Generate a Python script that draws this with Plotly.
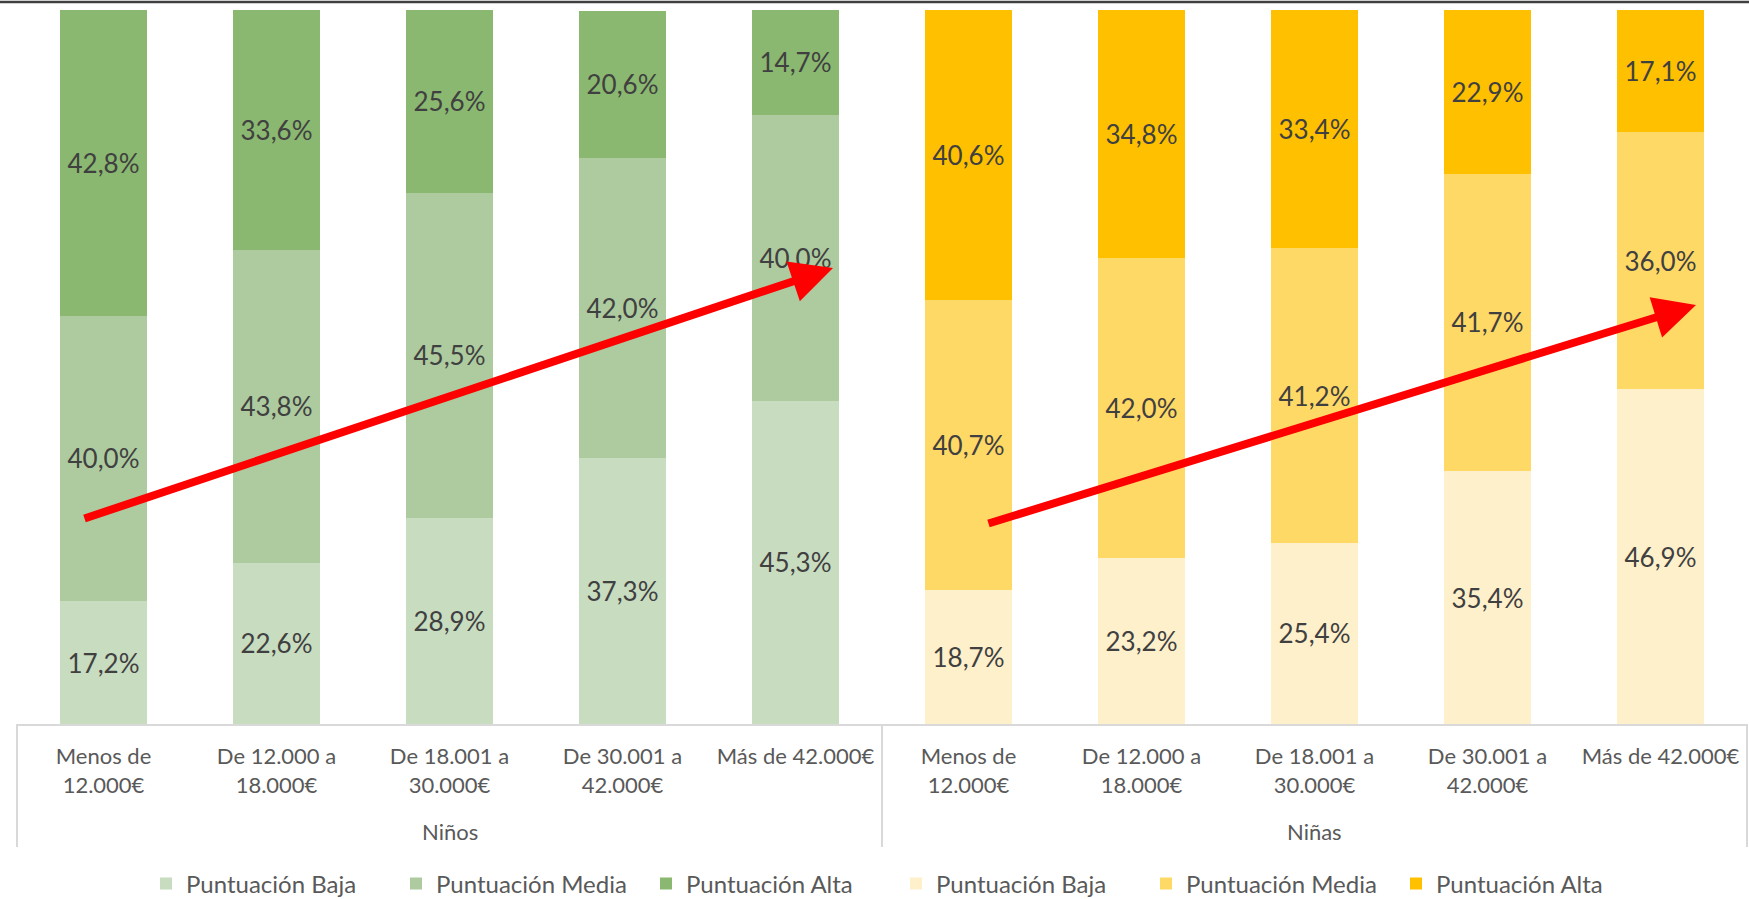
import plotly.graph_objects as go

groups = ["Niños", "Niñas"]
categories = ["Menos de<br>12.000€", "De 12.000 a<br>18.000€", "De 18.001 a<br>30.000€",
              "De 30.001 a<br>42.000€", "Más de 42.000€"]
series_names = ["Puntuación Baja", "Puntuación Media", "Puntuación Alta"]

ninos_baja = [17.2, 22.6, 28.9, 37.3, 45.3]
ninos_media = [40.0, 43.8, 45.5, 42.0, 40.0]
ninos_alta = [42.8, 33.6, 25.6, 20.6, 14.7]

ninas_baja = [18.7, 23.2, 25.4, 35.4, 46.9]
ninas_media = [40.7, 42.0, 41.2, 41.7, 36.0]
ninas_alta = [40.6, 34.8, 33.4, 22.9, 17.1]

green_colors = ["#C8DCC0", "#ADCB9F", "#8AB870"]
yellow_colors = ["#FFF0CC", "#FFD966", "#FFC000"]

FONT = "Lato, Carlito, Calibri, sans-serif"
TEXT_COLOR = "#404040"
AXIS_TEXT = "#595959"
GRID = "#D9D9D9"

# unique category keys (group|category) for a flat category axis
keys = [f"{g}|{c}" for g in groups for c in categories]
ticktext = [c for g in groups for c in categories]

fig = go.Figure()

def add_group(group, values_list, colors):
    x = [f"{group}|{c}" for c in categories]
    for name, vals, col in zip(series_names, values_list, colors):
        fig.add_trace(go.Bar(
            x=x, y=vals, name=name,
            marker=dict(color=col, line=dict(width=0)),
            text=[f"{v:.1f}%".replace(".", ",") for v in vals],
            textposition="inside", insidetextanchor="middle",
            textfont=dict(family=FONT, size=26, color=TEXT_COLOR),
            hoverinfo="skip",
        ))

add_group(groups[0], [ninos_baja, ninos_media, ninos_alta], green_colors)
add_group(groups[1], [ninas_baja, ninas_media, ninas_alta], yellow_colors)

W, H = 1749, 899
ml, mr, mt, mb = 17, 2, 10, 175
pw, ph = W - ml - mr, H - mt - mb

def px_to_paper(px, py):
    return (px - ml) / pw, (H - mb - py) / ph

arrows = [((83, 519), (833, 268)), ((987, 524), (1696, 305))]
annotations = []
for (sx, sy), (ex, ey) in arrows:
    xp, yp = px_to_paper(ex, ey)
    annotations.append(dict(
        x=xp, y=yp, xref="paper", yref="paper",
        ax=sx - ex, ay=sy - ey, axref="pixel", ayref="pixel",
        text="", showarrow=True, arrowhead=2, arrowsize=1.05,
        arrowwidth=8, arrowcolor="#FF0000", standoff=0,
    ))

# group labels and dividers
n_total = len(keys)
n_per = len(categories)
for gi, g in enumerate(groups):
    annotations.append(dict(
        x=(gi * n_per + n_per / 2) / n_total, y=-108 / ph, xref="paper", yref="paper",
        text=g, showarrow=False, yanchor="middle", xanchor="center",
        font=dict(family=FONT, size=22, color=AXIS_TEXT),
    ))

shapes = []
for gi in range(len(groups) + 1):
    xd = gi * n_per / n_total
    shapes.append(dict(type="line", xref="paper", yref="paper", x0=xd, x1=xd,
                       y0=0, y1=-123 / ph, line=dict(color=GRID, width=2)))
shapes.append(dict(type="line", xref="paper", yref="paper", x0=-0.02, x1=1.02,
                   y0=1 + 8 / ph, y1=1 + 8 / ph, line=dict(color="#404040", width=2.5)))

fig.update_layout(
    width=W, height=H,
    margin=dict(l=ml, r=mr, t=mt, b=mb, autoexpand=False),
    barmode="stack", bargap=0.5,
    plot_bgcolor="white", paper_bgcolor="white",
    font=dict(family=FONT, size=22, color=AXIS_TEXT),
    uniformtext=dict(minsize=26, mode="show"),
    xaxis=dict(type="category", categoryorder="array", categoryarray=keys,
               tickmode="array", tickvals=keys, ticktext=ticktext,
               showline=True, linecolor=GRID, linewidth=2,
               tickfont=dict(family=FONT, size=22, color=AXIS_TEXT),
               ticks="", ticklabelstandoff=12, showgrid=False, automargin=False),
    yaxis=dict(range=[0, 100], visible=False, showgrid=False),
    legend=dict(orientation="h", x=0.5 + 14 / pw, xanchor="center",
                yref="container", y=(H - 884) / H, yanchor="middle",
                entrywidth=205, entrywidthmode="pixels",
                font=dict(family=FONT, size=24, color=AXIS_TEXT), traceorder="normal",
                itemclick=False),
    annotations=annotations,
    shapes=shapes,
)

fig.write_html("out.html", config={"displayModeBar": False},
               post_script="document.body.style.margin='0';document.body.style.overflow='hidden';")
